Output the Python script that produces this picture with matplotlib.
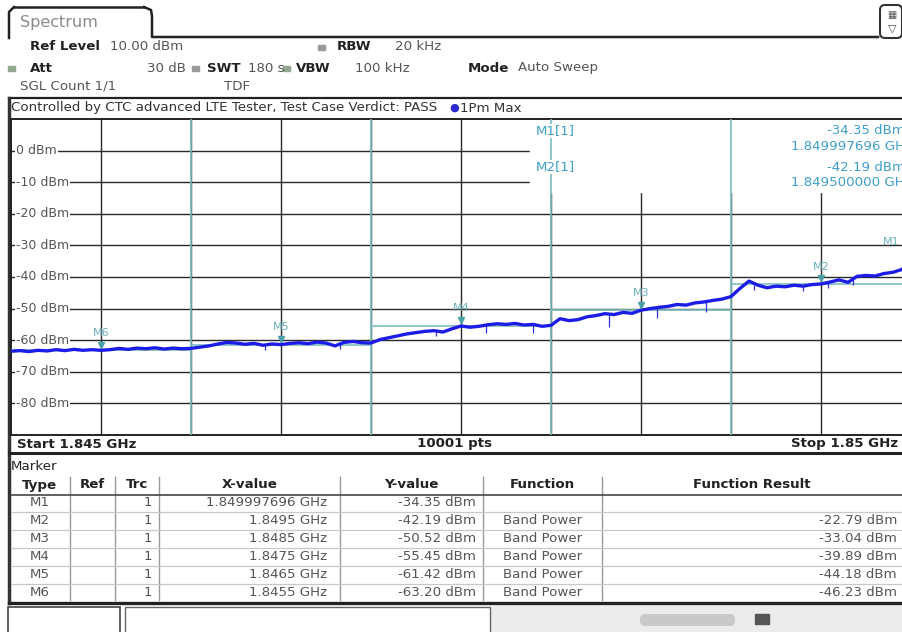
import numpy as np
import matplotlib
matplotlib.use("Agg")
import matplotlib.pyplot as plt
from matplotlib.patches import Rectangle, FancyBboxPatch

# ---- data ----
f_start, f_stop = 1.845, 1.850
ref_level = 10.0
y_labels = [0, -10, -20, -30, -40, -50, -60, -70, -80]

trace_freq = np.linspace(f_start, f_stop, 101)
trace_dbm = [
    -63.5, -63.3, -63.6, -63.2, -63.4, -63.0, -63.3, -62.9, -63.2, -63.0,
    -63.2, -63.0, -62.6, -62.9, -62.5, -62.7, -62.4, -62.8, -62.5, -62.7,
    -62.6, -62.2, -61.8, -61.2, -60.7, -60.9, -61.3, -61.0, -61.6, -61.2,
    -61.4, -61.0, -60.8, -61.1, -60.6, -60.9, -61.8, -60.7, -60.4, -60.8,
    -60.9, -59.8, -59.2, -58.6, -58.0, -57.6, -57.2, -57.0, -57.4, -56.4,
    -55.5, -55.9, -55.6, -55.1, -54.8, -55.0, -54.7, -55.2, -55.0, -55.6,
    -55.3, -53.2, -53.8, -53.5, -52.6, -52.2, -51.6, -51.9, -51.2, -51.5,
    -50.5, -50.0, -49.6, -49.3, -48.7, -48.9, -48.2, -47.9, -47.4, -47.0,
    -46.2, -43.6, -41.3, -42.6, -43.4, -42.9, -43.1, -42.6, -42.9, -42.4,
    -42.2, -41.6, -40.9, -41.7, -39.8, -39.5, -39.7, -38.9, -38.5, -37.6,
    -34.35,
]
spike_freq = [1.84641, 1.84683, 1.84736, 1.84764, 1.84790, 1.84832,
              1.84859, 1.84886, 1.84913, 1.84940, 1.84954, 1.84968]
spike_top = [-61.3, -61.0, -57.0, -55.1, -55.0, -51.7,
             -49.6, -47.9, -42.5, -42.9, -41.9, -40.5]
spike_low = [-63.2, -62.8, -58.6, -57.8, -57.6, -55.8,
             -53.0, -51.2, -44.2, -44.4, -43.6, -42.6]

band_edges = [1.846, 1.847, 1.848, 1.849]
marker_names = ["M1", "M2", "M3", "M4", "M5", "M6"]
marker_freq = [1.849997696, 1.8495, 1.8485, 1.8475, 1.8465, 1.8455]
marker_dbm = [-34.35, -42.19, -50.52, -55.45, -61.42, -63.20]
marker_xtext = ["1.849997696 GHz", "1.8495 GHz", "1.8485 GHz",
                "1.8475 GHz", "1.8465 GHz", "1.8455 GHz"]
band_lo = [None, 1.849, 1.848, 1.847, 1.846, 1.845]
band_hi = [None, 1.850, 1.849, 1.848, 1.847, 1.846]
band_power = [None, -22.79, -33.04, -39.89, -44.18, -46.23]

W, H = 902, 632
TEAL = "#7dbdbd"
MTXT = "#3f9fc8"
GRID = "#2a2a2a"
FS = 9.6

fig = plt.figure(figsize=(W / 100, H / 100), dpi=100)
fig.patch.set_facecolor("white")


def t(x, y, s, **kw):
    kw.setdefault("fontsize", FS)
    kw.setdefault("color", "#333333")
    kw.setdefault("va", "center")
    return fig.text(x / W, 1 - y / H, s, **kw)


# overlay axes in pixel coords for the chrome
ov = fig.add_axes([0, 0, 1, 1], zorder=0)
ov.set_xlim(0, W)
ov.set_ylim(H, 0)
ov.axis("off")

# tab
ov.plot([9, 9, 14], [38, 12, 7], color="#222", lw=1.8)
ov.plot([14, 144], [7, 7], color="#222", lw=1.8)
ov.plot([144, 151, 152, 152, 878], [7, 10, 16, 37, 37], color="#222", lw=1.8)
t(20, 22, "Spectrum", color="#8a8a8a", fontsize=11.5)
ov.add_patch(FancyBboxPatch((880, 5), 22, 33, boxstyle="round,pad=0,rounding_size=5",
                            fc="white", ec="#333", lw=1.5))
t(892, 15, "\u25a6", fontsize=7, color="#555", ha="center")
t(892, 28, "\u25bd", fontsize=8, color="#555", ha="center")

# settings header
t(30, 47, "Ref Level", fontweight="bold", color="#222")
t(110, 47, "10.00 dBm", color="#555")
ov.add_patch(Rectangle((318, 45), 7, 5, color="#9a9a9a"))
t(337, 47, "RBW", fontweight="bold", color="#222")
t(395, 47, "20 kHz", color="#555")
ov.add_patch(Rectangle((8, 66), 7, 5, color="#8fa88f"))
t(30, 68, "Att", fontweight="bold", color="#222")
t(186, 68, "30 dB", ha="right", color="#555")
ov.add_patch(Rectangle((192, 66), 7, 5, color="#9a9a9a"))
t(207, 68, "SWT", fontweight="bold", color="#222")
t(248, 68, "180 s", color="#555")
ov.add_patch(Rectangle((283, 66), 7, 5, color="#8fa88f"))
t(296, 68, "VBW", fontweight="bold", color="#222")
t(355, 68, "100 kHz", color="#555")
t(468, 68, "Mode", fontweight="bold", color="#222")
t(518, 68, "Auto Sweep", color="#555")
t(20, 86, "SGL Count 1/1", color="#555")
t(224, 86, "TDF", color="#555")

# "Controlled by" strip
ov.plot([9, W], [98, 98], color="#222", lw=1.6)
t(11, 108, "Controlled by CTC advanced LTE Tester, Test Case Verdict: PASS")
t(449, 108, "\u25cf", color="#2a2ad0", fontsize=8)
t(460, 108, "1Pm Max")
ov.plot([9, 9], [98, 453], color="#333", lw=2.5)

# start / stop strip
ov.plot([9, W], [453, 453], color="#222", lw=2.2)
t(17, 444, "Start 1.845 GHz", fontweight="bold", color="#222")
t(455, 444, "10001 pts", fontweight="bold", color="#222", ha="center")
t(898, 444, "Stop 1.85 GHz", fontweight="bold", color="#222", ha="right")

# ---- spectrum axes ----
ax = fig.add_axes([11 / W, 1 - 435 / H, 900 / W, 316 / H], zorder=1)
ax.set_xlim(f_start, f_stop)
ax.set_ylim(ref_level - 100, ref_level)
ax.set_xticks([])
ax.set_yticks([])
for sp in ax.spines.values():
    sp.set_color("#222")
    sp.set_linewidth(1.4)

for lv in y_labels:
    ax.axhline(lv, color=GRID, lw=1.0, zorder=1)
for k in range(1, 10):
    ax.axvline(f_start + k * (f_stop - f_start) / 10, color=GRID, lw=1.0, zorder=1)

# marker info box hides grid in upper right
box_x0 = f_start + (530 - 11) / 900 * (f_stop - f_start)
ax.add_patch(Rectangle((box_x0, -13.2), f_stop - box_x0, 24, color="white", zorder=2))

for fe in band_edges:
    ax.axvline(fe, color=TEAL, lw=1.2, zorder=3)
for lo, hi, lv in zip(band_lo, band_hi, marker_dbm):
    if lo is not None:
        ax.plot([lo, hi], [lv, lv], color=TEAL, lw=1.2, zorder=3)

ax.vlines(spike_freq, spike_low, spike_top, color="#3030e0", lw=0.9, zorder=4)
ax.plot(trace_freq, trace_dbm, color="#1c1ce6", lw=2.4, zorder=5)

for name, fq, lv in zip(marker_names, marker_freq, marker_dbm):
    ax.plot([fq], [lv + 1.8], marker="v", ms=4, color="#4aa0a8", zorder=6)
    if name == "M1":
        ax.text(fq - 0.00006, lv + 5.5, name, color="#6ab0bc", fontsize=8,
                ha="right", va="center", zorder=6)
    else:
        ax.text(fq, lv + 5.5, name, color="#6ab0bc", fontsize=8, ha="center",
                va="center", zorder=6)

for lv in y_labels:
    yp = 119 + (ref_level - lv) * 3.16
    t(16, yp, f"{lv} dBm", color="#555555", fontsize=9,
      bbox=dict(fc="white", ec="none", pad=0.5))

# marker readout
t(536, 131, "M1[1]", color=MTXT, bbox=dict(fc="white", ec="none", pad=0.5))
t(905, 131, "-34.35 dBm", color=MTXT, ha="right")
t(912, 147, "1.849997696 GHz", color=MTXT, ha="right")
t(536, 167, "M2[1]", color=MTXT, bbox=dict(fc="white", ec="none", pad=0.5))
t(905, 167, "-42.19 dBm", color=MTXT, ha="right")
t(912, 183, "1.849500000 GHz", color=MTXT, ha="right")

# ---- marker table ----
t(11, 466, "Marker", color="#222")
cols = [9, 70, 115, 159, 340, 483, 602, W]
heads = ["Type", "Ref", "Trc", "X-value", "Y-value", "Function", "Function Result"]
for i, h in enumerate(heads):
    t((cols[i] + cols[i + 1]) / 2, 485, h, fontweight="bold", color="#222", ha="center")
for c in cols[1:-1]:
    ov.plot([c, c], [477, 600], color="#999", lw=1.0)
ov.plot([12, W], [495, 495], color="#444", lw=1.2)
row_y = [503, 521, 539, 557, 575, 593]
for ry in row_y[1:]:
    ov.plot([12, W], [ry - 9, ry - 9], color="#c8c8c8", lw=0.9)
for i, ry in enumerate(row_y):
    t(40, ry, marker_names[i], ha="center", color="#555")
    t(152, ry, "1", ha="right", color="#555")
    t(327, ry, marker_xtext[i], ha="right", color="#555")
    t(476, ry, f"{marker_dbm[i]:.2f} dBm", ha="right", color="#555")
    if band_power[i] is not None:
        t(543, ry, "Band Power", ha="center", color="#555")
        t(897, ry, f"{band_power[i]:.2f} dBm", ha="right", color="#555")
ov.plot([9, 9], [456, 603], color="#333", lw=2.5)
ov.plot([9, W], [603, 603], color="#222", lw=2.4)

# status bar
ov.add_patch(Rectangle((490, 606), W - 490, 26, color="#ececec"))
ov.add_patch(Rectangle((8, 607), 112, 30, fc="white", ec="#444", lw=1.2))
ov.add_patch(Rectangle((125, 607), 365, 30, fc="white", ec="#666", lw=1.0))
ov.add_patch(FancyBboxPatch((640, 614), 95, 12, boxstyle="round,pad=0,rounding_size=5",
                            fc="#c9c9c9", ec="none"))
ov.add_patch(Rectangle((755, 614), 14, 10, color="#555"))

fig.savefig("out.png", dpi=100, facecolor="white")
